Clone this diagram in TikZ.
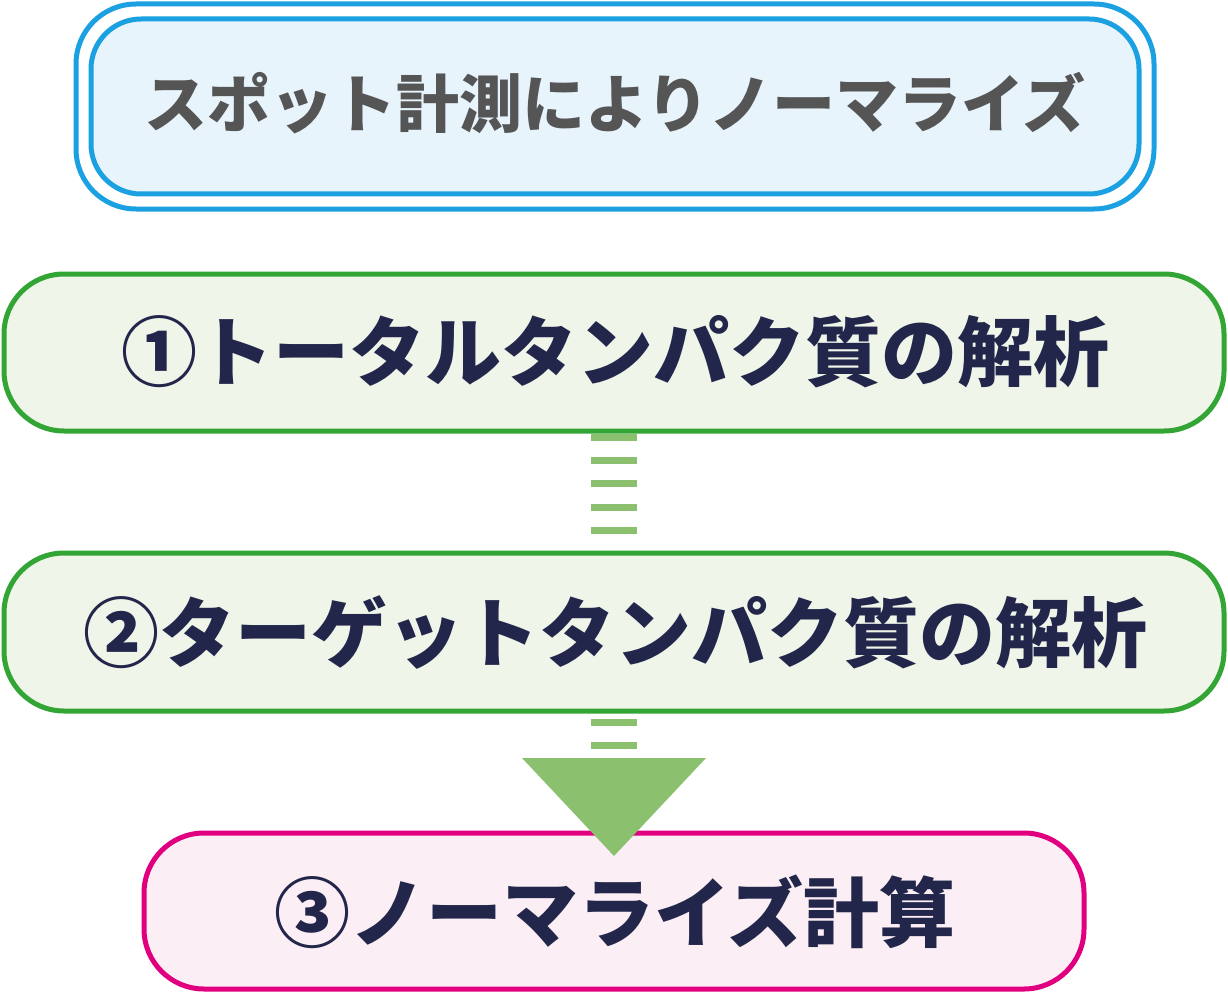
\documentclass[tikz,border=0pt]{standalone}
\usepackage{fontspec}
\newfontfamily\cjk{Noto Sans CJK JP}
\definecolor{bblue}{HTML}{1BA1E2}
\definecolor{bfill}{HTML}{E8F4FC}
\definecolor{ggreen}{HTML}{33A535}
\definecolor{gfill}{HTML}{F0F5EA}
\definecolor{mag}{HTML}{E0007F}
\definecolor{mfill}{HTML}{FCEEF5}
\definecolor{navy}{HTML}{22264A}
\definecolor{lgreen}{HTML}{8BC06F}
\definecolor{gtext}{HTML}{555555}
\begin{document}
\begin{tikzpicture}[x=1pt,y=-1pt,
  box/.style={rounded corners=60pt,line width=5pt},
  lbl/.style={font=\cjk\bfseries\fontsize{76}{80}\selectfont,text=navy,inner sep=0pt},
  dash/.style={}]
\useasboundingbox (0,0) rectangle (1228,995);
\draw[box,draw=bblue,fill=white] (76,4) rectangle (1154,209);
\draw[box,draw=bblue,fill=bfill,rounded corners=50pt] (91,19) rectangle (1139,194);
\node[inner sep=0pt,font=\cjk\bfseries\fontsize{63}{66}\selectfont,text=gtext] (top) at (615,103) {スポット計測によりノーマライズ};
\draw[box,draw=ggreen,fill=gfill] (4,274) rectangle (1224,431);
\node[lbl] (b1) at (615,352) {①トータルタンパク質の解析};
\draw[box,draw=ggreen,fill=gfill] (4,553) rectangle (1224,711);
\node[lbl] (b2) at (615,632) {②ターゲットタンパク質の解析};
\draw[box,draw=mag,fill=mfill] (144,833) rectangle (1084,989);
\node[lbl] (b3) at (615,912) {③ノーマライズ計算};
\foreach \y in {437,460,483,507,530,722,745}
  \fill[lgreen] (591,\y-3.5) rectangle (637,\y+3.5);
\fill[lgreen] (522,758) -- (706,758) -- (614,856) -- cycle;
\end{tikzpicture}
\end{document}
